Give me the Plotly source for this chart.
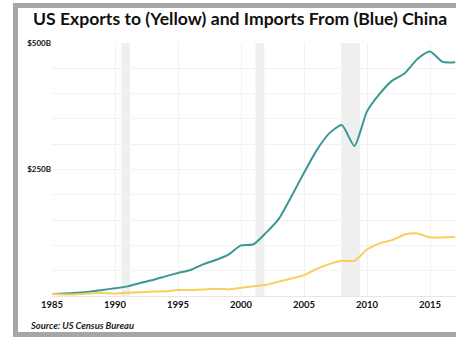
import plotly.graph_objects as go

years = list(range(1985, 2018))
imports_bn = [3.9, 4.8, 6.3, 8.5, 12.0, 15.2, 19.0, 25.7, 31.5, 38.8, 45.5, 51.5, 62.6, 71.2,
              81.8, 100.0, 102.3, 125.2, 152.4, 196.7, 243.5, 287.8, 321.4, 337.8, 296.4,
              364.9, 399.4, 425.6, 440.4, 468.5, 483.2, 462.6, 462.0]
exports_bn = [3.9, 3.1, 3.5, 5.0, 5.8, 4.8, 6.3, 7.4, 8.8, 9.3, 11.7, 12.0, 12.9, 14.2,
              13.1, 16.2, 19.2, 22.1, 28.4, 34.4, 41.2, 53.7, 62.9, 69.7, 69.5, 91.9,
              104.1, 110.5, 121.7, 123.7, 115.9, 115.6, 117.0]
recessions = [(1990.5, 1991.2), (2001.15, 2001.85), (2007.95, 2009.45)]
y_tickvals = [0, 50, 100, 150, 200, 250, 300, 350, 400, 450, 500]
y_ticktext = ["", "", "", "", "", "$250B", "", "", "", "", "$500B"]
x_tickvals = [1985, 1990, 1995, 2000, 2005, 2010, 2015]

W, H = 456, 337
ML, MR, MT, MB = 52, 0, 43, 41
PW, PH = W - ML - MR, H - MT - MB

def px_x(p):
    return (p - ML) / PW

def px_y(p):
    return (H - MB - p) / PH

fig = go.Figure()
fig.add_trace(go.Scatter(x=years, y=imports_bn, mode="lines", line=dict(color="#3a9893", width=2, shape="spline", smoothing=0.6),
                         name="Imports", hoverinfo="skip"))
fig.add_trace(go.Scatter(x=years, y=exports_bn, mode="lines", line=dict(color="#f6cf5c", width=2, shape="spline", smoothing=0.6),
                         name="Exports", hoverinfo="skip"))

shapes = []
for a, b in recessions:
    shapes.append(dict(type="rect", xref="x", yref="paper", x0=a, x1=b, y0=0, y1=1,
                       fillcolor="#efefef", line=dict(width=0), layer="below"))
# outer grey frame
shapes.append(dict(type="rect", xref="paper", yref="paper",
                   x0=px_x(15.5), x1=px_x(480), y0=px_y(5.5), y1=px_y(334.5),
                   line=dict(color="#a6a6a6", width=5), fillcolor="rgba(0,0,0,0)", layer="above"))

fig.update_layout(
    width=W, height=H,
    margin=dict(l=ML, r=MR, t=MT, b=MB),
    paper_bgcolor="white", plot_bgcolor="white",
    showlegend=False,
    shapes=shapes,
    title=dict(text="<b>US Exports to (Yellow) and Imports From (Blue) China</b>",
               x=px_x(240), xref="paper", xanchor="center", y=1 - 19 / H, yanchor="middle",
               font=dict(family="Lato", size=17.6, color="#111111")),
    annotations=[dict(text="<b><i>Source: US Census Bureau</i></b>", xref="paper", yref="paper",
                      x=px_x(28), y=px_y(325), xanchor="left", yanchor="middle", showarrow=False,
                      font=dict(family="Lato", size=9.4, color="#222222"))],
    xaxis=dict(range=[1985, 1985 + PW / 12.6], tickvals=x_tickvals, showgrid=True, gridcolor="#f2f2f2",
               gridwidth=1, zeroline=False, showline=True, linecolor="#e6e6e6", linewidth=1,
               tickfont=dict(family="Lato", size=9.5, color="#111111", weight="bold"), ticks=""),
    yaxis=dict(range=[0, 500], tickvals=y_tickvals, ticktext=y_ticktext, showgrid=True,
               gridcolor="#f2f2f2", gridwidth=1, zeroline=False,
               tickfont=dict(family="Lato", size=8, color="#111111", weight="bold"), ticks=""),
)

fig.write_html("out.html", config={"displayModeBar": False},
               post_script="document.body.style.margin='0';document.body.style.overflow='hidden';")
